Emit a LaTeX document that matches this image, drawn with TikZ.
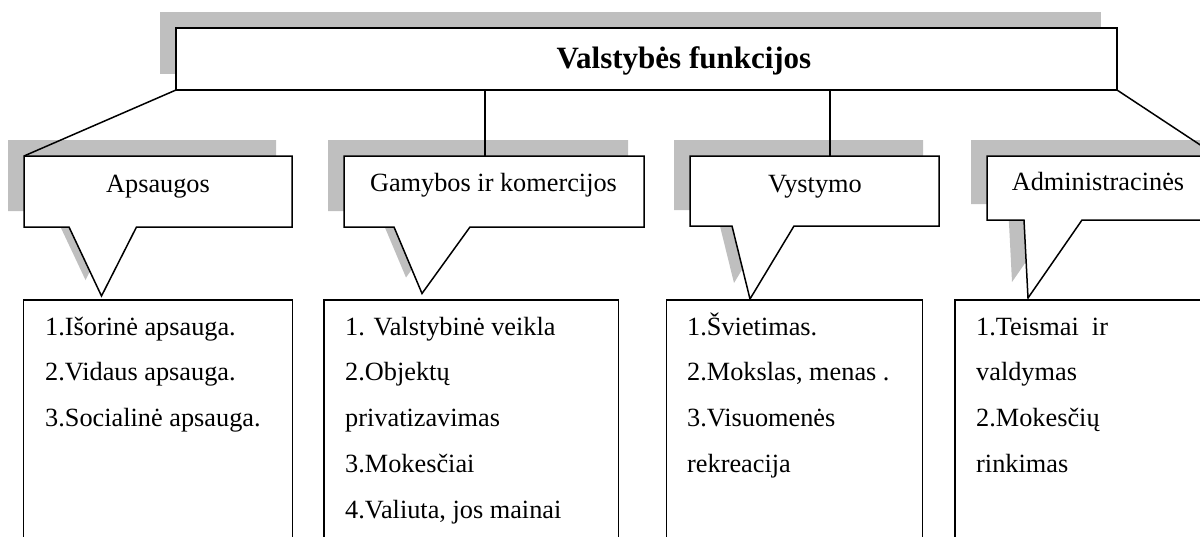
\documentclass[tikz,border=0pt]{standalone}
\usepackage{fontspec}
\setmainfont{Liberation Serif}
\usetikzlibrary{backgrounds,calc}
\definecolor{shadowgray}{RGB}{191,191,191}
\begin{document}
\begin{tikzpicture}[x=1pt,y=-1pt,
  frame/.style={draw=none,inner sep=0pt,outer sep=0pt},
  lbl/.style={font=\fontsize{26.3}{30}\selectfont, anchor=base, inner sep=0pt},
  ttl/.style={font=\fontsize{31}{37}\selectfont\bfseries, anchor=base, inner sep=0pt},
  item/.style={font=\fontsize{26.3}{30}\selectfont, anchor=base west, inner sep=0pt},
  outline/.style={draw=black, fill=white, line width=1.5pt, line join=miter},
  shadow/.style={fill=shadowgray},
  conn/.style={draw=black, line width=1.5pt},
  sh/.style={shift={(-16,-16)}}
]
\clip (0,0) rectangle (1200,536);

% frames
\node[frame, minimum width=941pt, minimum height=62pt] (top) at (646.5,59) {};
\node[frame, minimum width=268pt, minimum height=71pt] (b1) at (158,191.5) {};
\node[frame, minimum width=300pt, minimum height=71pt] (b2) at (494,191.5) {};
\node[frame, minimum width=249pt, minimum height=70pt] (b3) at (814.5,191) {};
\node[frame, minimum width=230pt, minimum height=64pt] (b4) at (1102,188) {};
\node[frame, minimum width=269pt, minimum height=260pt] (l1) at (158,430) {};
\node[frame, minimum width=294.5pt, minimum height=260pt] (l2) at (471.25,430) {};
\node[frame, minimum width=256pt, minimum height=260pt] (l3) at (794.5,430) {};
\node[frame, minimum width=275pt, minimum height=260pt] (l4) at (1092.5,430) {};

% pointer points
\coordinate (p1a) at (69,227);   \coordinate (t1) at (101.5,296); \coordinate (p1b) at (136.5,227);
\coordinate (p2a) at (394,227);  \coordinate (t2) at (422,293.5); \coordinate (p2b) at (470,227);
\coordinate (p3a) at (732,226);  \coordinate (t3) at (750,299);   \coordinate (p3b) at (794,226);
\coordinate (p4a) at (1024,220); \coordinate (t4) at (1028,298);  \coordinate (p4b) at (1082,220);

\begin{scope}[on background layer]
  % shadows
  \fill[shadow] ([sh]top.north west) rectangle ([sh]top.south east);
  \fill[shadow] ([sh]b1.north west) -- ([sh]b1.north east) -- ([sh]b1.south east) -- ([sh]p1b) -- ([sh]t1) -- ([sh]p1a) -- ([sh]b1.south west) -- cycle;
  \fill[shadow] ([sh]b2.north west) -- ([sh]b2.north east) -- ([sh]b2.south east) -- ([sh]p2b) -- ([sh]t2) -- ([sh]p2a) -- ([sh]b2.south west) -- cycle;
  \fill[shadow] ([sh]b3.north west) -- ([sh]b3.north east) -- ([sh]b3.south east) -- ([sh]p3b) -- ([sh]t3) -- ([sh]p3a) -- ([sh]b3.south west) -- cycle;
  \fill[shadow] ([sh]b4.north west) -- ([sh]b4.north east) -- ([sh]b4.south east) -- ([sh]p4b) -- ([sh]t4) -- ([sh]p4a) -- ([sh]b4.south west) -- cycle;
  % outlines
  \path[outline] (top.north west) rectangle (top.south east);
  \path[outline] (b1.north west) -- (b1.north east) -- (b1.south east) -- (p1b) -- (t1) -- (p1a) -- (b1.south west) -- cycle;
  \path[outline] (b2.north west) -- (b2.north east) -- (b2.south east) -- (p2b) -- (t2) -- (p2a) -- (b2.south west) -- cycle;
  \path[outline] (b3.north west) -- (b3.north east) -- (b3.south east) -- (p3b) -- (t3) -- (p3a) -- (b3.south west) -- cycle;
  \path[outline] (b4.north west) -- (b4.north east) -- (b4.south east) -- (p4b) -- (t4) -- (p4a) -- (b4.south west) -- cycle;
  \path[outline] (l1.north west) rectangle (l1.south east);
  \path[outline] (l2.north west) rectangle (l2.south east);
  \path[outline] (l3.north west) rectangle (l3.south east);
  \path[outline] (l4.north west) rectangle (l4.south east);
\end{scope}

% connectors
\draw[conn] (top.south west) -- (b1.north west);
\draw[conn] ($(top.south west)+(309,0)$) -- ($(b2.north west)+(141,0)$);
\draw[conn] ($(top.south west)+(654,0)$) -- ($(b3.north west)+(140,0)$);
\draw[conn] (top.south east) -- (b4.north east);

% texts
\node[ttl] (title) at (684,68.3) {Valstybės funkcijos};
\node[lbl] (n1) at (158,192) {Apsaugos};
\node[lbl] (n2) at (493.5,191.7) {Gamybos ir komercijos};
\node[lbl] (n3) at (815,192) {Vystymo};
\node[lbl] (n4) at (1098,190) {Administracinės};

\foreach \t [count=\i] in {1.Išorinė apsauga., 2.Vidaus apsauga., 3.Socialinė apsauga.}
  \node[item] (a\i) at (45,{335+45.75*(\i-1)}) {\t};
\foreach \t [count=\i] in {1. Valstybinė veikla, 2.Objektų, privatizavimas, 3.Mokesčiai, {4.Valiuta, jos mainai}}
  \node[item] (g\i) at (345,{335+45.75*(\i-1)}) {\t};
\foreach \t [count=\i] in {1.Švietimas., {2.Mokslas, menas .}, 3.Visuomenės, rekreacija}
  \node[item] (v\i) at (687,{335+45.75*(\i-1)}) {\t};
\foreach \t [count=\i] in {1.Teismai\ \ ir, valdymas, 2.Mokesčių, rinkimas}
  \node[item] (d\i) at (976,{335+45.75*(\i-1)}) {\t};
\end{tikzpicture}
\end{document}
